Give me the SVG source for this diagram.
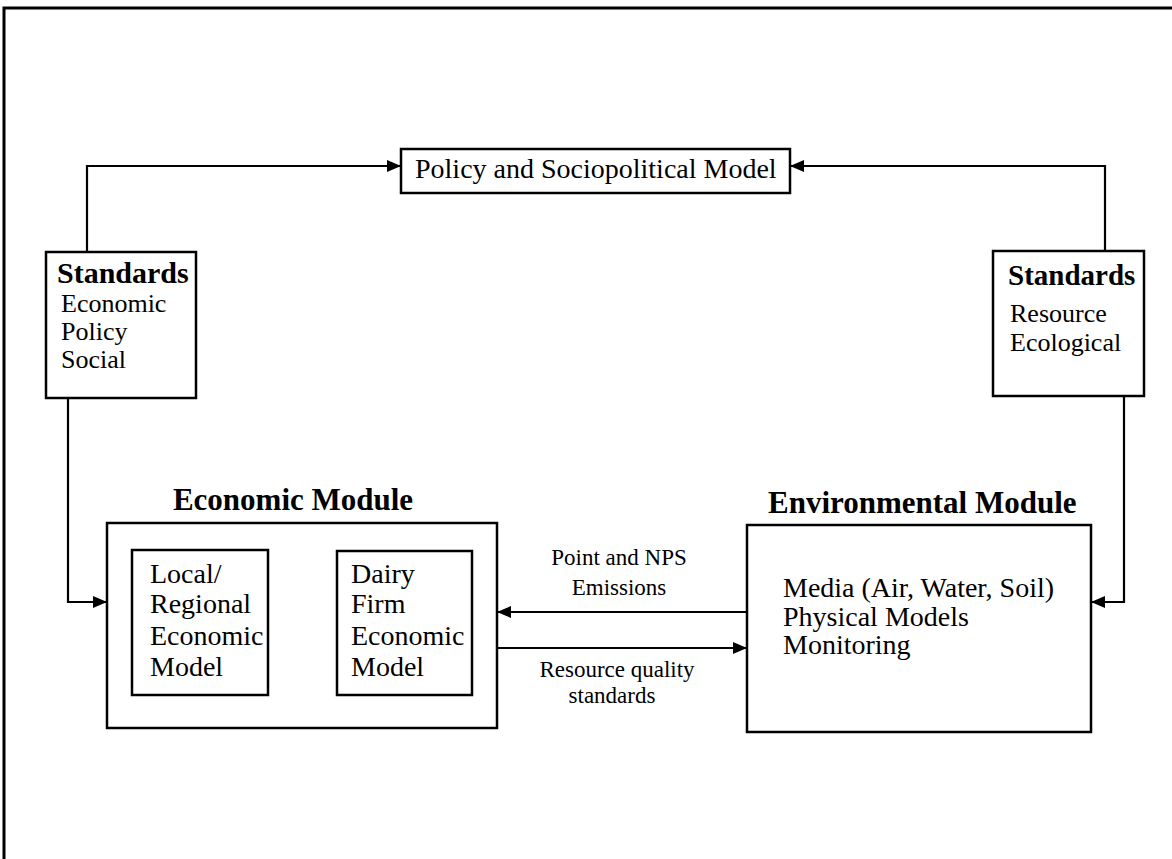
<svg xmlns="http://www.w3.org/2000/svg" width="1172" height="859" viewBox="0 0 1172 859">
<defs>
<marker id="ah" markerUnits="userSpaceOnUse" markerWidth="14" markerHeight="12" refX="13" refY="6" orient="auto">
<path d="M0,0 L14,6 L0,12 Z" fill="#000"/>
</marker>
<style>
.box{fill:#fff;stroke:#000;stroke-width:2.5}
.ln{fill:none;stroke:#000;stroke-width:2.2;marker-end:url(#ah)}
.t{font-family:"Liberation Serif","Times New Roman",serif;font-size:28px;fill:#000}
.s{font-size:26px}
.b{font-family:"Liberation Serif","Times New Roman",serif;font-weight:bold;font-size:30px;fill:#000}
.l{font-family:"Liberation Serif","Times New Roman",serif;font-size:23px;fill:#000;text-anchor:middle}
</style>
</defs>
<rect width="1172" height="859" fill="#fff"/>
<path d="M4,859 V8 H1172" fill="none" stroke="#000" stroke-width="3"/>
<g id="connectors">
<path class="ln" d="M87,252 V166 H400"/>
<path class="ln" d="M1105,251 V166 H791"/>
<path class="ln" d="M68,398 V602 H106"/>
<path class="ln" d="M1124,396 V602 H1092"/>
<path class="ln" d="M747,612 H498"/>
<path class="ln" d="M497,648 H746"/>
<path class="ln" d="M337,602 H269"/>
<path class="ln" d="M268,640 H336"/>
</g>
<g id="policy">
<rect class="box" x="401" y="149" width="389" height="44"/>
<text class="t" x="415" y="178">Policy and Sociopolitical Model</text>
</g>
<g id="standards-left">
<rect class="box" x="46" y="252" width="150" height="146"/>
<text class="b" x="57" y="283">Standards</text>
<text class="t s" x="61" y="312">Economic</text>
<text class="t s" x="61" y="340">Policy</text>
<text class="t s" x="61" y="368">Social</text>
</g>
<g id="standards-right">
<rect class="box" x="993" y="251" width="151" height="145"/>
<text class="b" x="1008" y="285" style="font-size:29px">Standards</text>
<text class="t s" x="1010" y="322">Resource</text>
<text class="t s" x="1010" y="351">Ecological</text>
</g>
<g id="economic-module">
<text class="b" x="293" y="510" text-anchor="middle" style="font-size:31px">Economic Module</text>
<rect class="box" x="107" y="523" width="390" height="205"/>
</g>
<g id="local-regional">
<rect class="box" x="132" y="550" width="136" height="145"/>
<text class="t" x="150" y="583">Local/</text>
<text class="t" x="150" y="613">Regional</text>
<text class="t" x="150" y="645">Economic</text>
<text class="t" x="150" y="676">Model</text>
</g>
<g id="dairy-firm">
<rect class="box" x="337" y="551" width="135" height="144"/>
<text class="t" x="351" y="583">Dairy</text>
<text class="t" x="351" y="613">Firm</text>
<text class="t" x="351" y="645">Economic</text>
<text class="t" x="351" y="676">Model</text>
</g>
<g id="environmental-module">
<text class="b" x="768" y="513" style="font-size:31px">Environmental Module</text>
<rect class="box" x="747" y="525" width="344" height="207"/>
<text class="t" x="783" y="597">Media (Air, Water, Soil)</text>
<text class="t" x="783" y="626">Physical Models</text>
<text class="t" x="783" y="654">Monitoring</text>
</g>
<g id="labels">
<text class="l" x="619" y="565">Point and NPS</text>
<text class="l" x="619" y="595">Emissions</text>
<text class="l" x="617" y="677">Resource quality</text>
<text class="l" x="612" y="703">standards</text>
</g>
</svg>
